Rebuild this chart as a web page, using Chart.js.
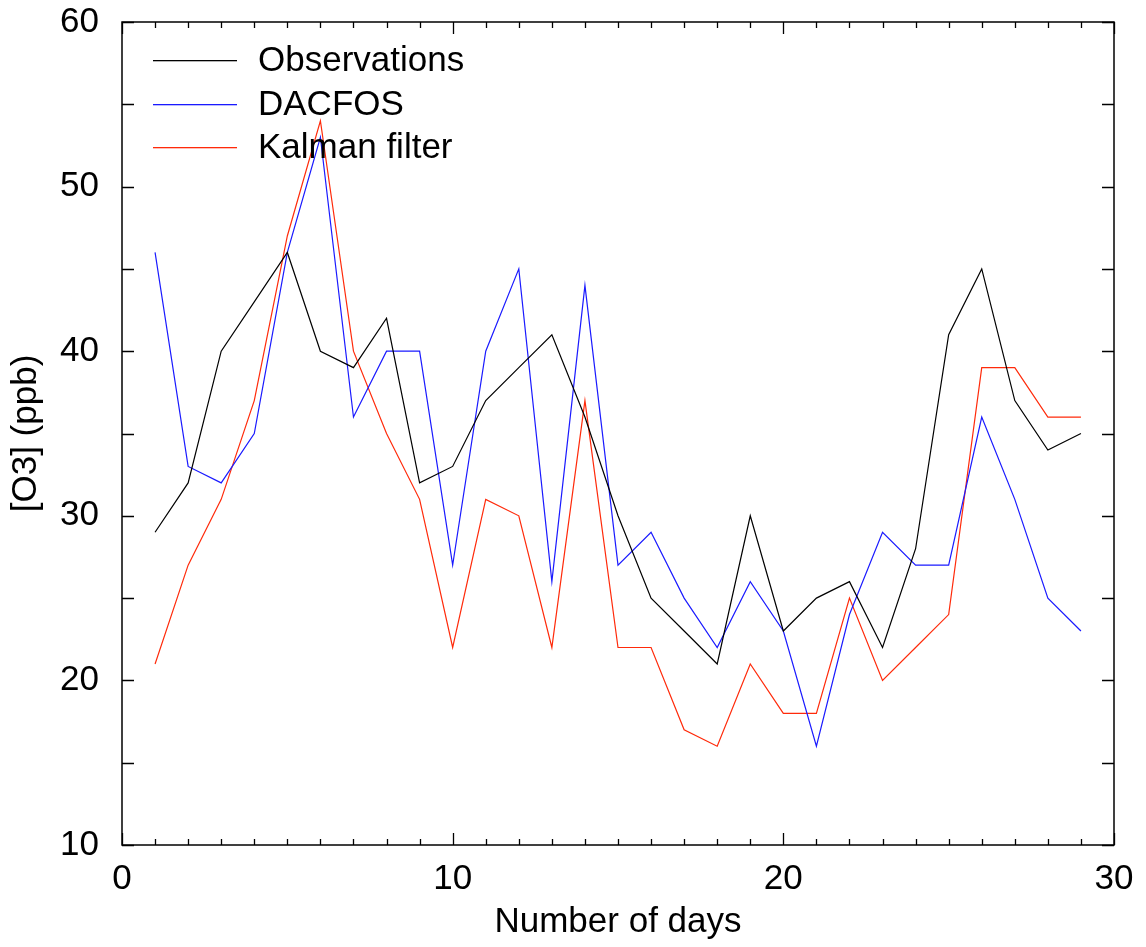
<!DOCTYPE html>
<html>
<head>
<meta charset="utf-8">
<script src="https://cdn.jsdelivr.net/npm/chart.js@4.4.1/dist/chart.umd.min.js"></script>
<style>
  body { margin: 0; background: #fff; }
  #wrap { width: 1146px; height: 947px; }
</style>
</head>
<body>
<div id="wrap"><canvas id="ozoneChart" width="1146" height="947"></canvas></div>
<script>
const days = [1, 2, 3, 4, 5, 6, 7, 8, 9, 10, 11, 12, 13, 14, 15, 16, 17, 18, 19, 20, 21, 22, 23, 24, 25, 26, 27, 28, 29];
const observations = [29, 32, 40, 43, 46, 40, 39, 42, 32, 33, 37, 39, 41, 36, 30, 25, 23, 21, 30, 23, 25, 26, 22, 28, 41, 45, 37, 34, 35];
const dacfos = [46, 33, 32, 35, 46, 53, 36, 40, 40, 27, 40, 45, 26, 44, 27, 29, 25, 22, 26, 23, 16, 24, 29, 27, 27, 36, 31, 25, 23];
const kalman = [21, 27, 31, 37, 47, 54, 40, 35, 31, 22, 31, 30, 22, 37, 22, 22, 17, 16, 21, 18, 18, 25, 20, 22, 24, 39, 39, 36, 36];
const xTickLabels = [0, 10, 20, 30];
const yTickLabels = [10, 20, 30, 40, 50, 60];
const xMinorStep = 1;
const yMinorStep = 5;

const fuente = '"Liberation Sans", Arial, Helvetica, sans-serif';
const tamano = 35;
const colores = ['#000000', '#1a1aff', '#ff2a0a'];
Chart.defaults.font.family = fuente;
Chart.defaults.color = '#000';

function serie(valores) {
    return days.map((d, i) => ({ x: d, y: valores[i] }));
}

// marcas hacia adentro en los cuatro lados, como gnuplot
const marcoPlugin = {
    id: 'marco',
    afterDatasetsDraw(chart) {
        const { ctx, chartArea: a, scales: { x, y } } = chart;
        ctx.save();
        ctx.strokeStyle = '#000';
        ctx.lineWidth = 1.3;
        ctx.beginPath();
        for (let v = x.min; v <= x.max; v += xMinorStep) {
            const px = Math.round(x.getPixelForValue(v)) + 0.5;
            const largo = xTickLabels.includes(v) ? 12 : 6;
            ctx.moveTo(px, a.bottom); ctx.lineTo(px, a.bottom - largo);
            ctx.moveTo(px, a.top); ctx.lineTo(px, a.top + largo);
        }
        for (let v = y.min; v <= y.max; v += yMinorStep) {
            const py = Math.round(y.getPixelForValue(v)) + 0.5;
            ctx.moveTo(a.left, py); ctx.lineTo(a.left + 12, py);
            ctx.moveTo(a.right, py); ctx.lineTo(a.right - 12, py);
        }
        ctx.stroke();
        ctx.lineWidth = 1.5;
        ctx.strokeRect(a.left, a.top, a.right - a.left, a.bottom - a.top);
        ctx.restore();
    }
};

const leyendaPlugin = {
    id: 'leyenda',
    afterDraw(chart) {
        const { ctx, chartArea: a } = chart;
        chart.data.datasets.forEach((ds, i) => {
            const py = Math.round(a.top + 38 + i * 43.5);
            ctx.save();
            ctx.fillStyle = colores[i];
            ctx.fillRect(a.left + 31, py, 84, 1.3);
            ctx.font = tamano + 'px ' + fuente;
            ctx.textBaseline = 'middle';
            ctx.fillStyle = '#000';
            ctx.fillText(ds.label, a.left + 136, py + 1);
            ctx.restore();
        });
    }
};

const ctx = document.getElementById('ozoneChart').getContext('2d');
new Chart(ctx, {
    type: 'line',
    data: {
        datasets: [
            { label: 'Observations', data: serie(observations), borderColor: colores[0] },
            { label: 'DACFOS', data: serie(dacfos), borderColor: colores[1] },
            { label: 'Kalman filter', data: serie(kalman), borderColor: colores[2] }
        ]
    },
    options: {
        responsive: false,
        animation: false,
        devicePixelRatio: 1,
        layout: { padding: { left: 0, right: 32, top: 22, bottom: 0 } },
        elements: {
            line: { borderWidth: 1.2, tension: 0, fill: false },
            point: { radius: 0 }
        },
        plugins: {
            legend: { display: false },
            tooltip: { enabled: false }
        },
        scales: {
            x: {
                type: 'linear',
                min: 0,
                max: 30,
                grid: { display: false, drawTicks: false },
                border: { display: false },
                afterBuildTicks: s => { s.ticks = xTickLabels.map(v => ({ value: v })); },
                afterFit: s => { s.height = 102; s.paddingLeft = 0; s.paddingRight = 0; },
                ticks: { font: { size: tamano }, padding: 13, maxRotation: 0 },
                title: { display: true, text: 'Number of days', font: { size: tamano }, padding: { top: 0, bottom: 4 } }
            },
            y: {
                type: 'linear',
                min: 10,
                max: 60,
                grid: { display: false, drawTicks: false },
                border: { display: false },
                afterBuildTicks: s => { s.ticks = yTickLabels.map(v => ({ value: v })); },
                afterFit: s => { s.width = 122; s.paddingTop = 0; s.paddingBottom = 0; },
                ticks: { font: { size: tamano }, padding: 23 },
                title: { display: true, text: '[O3] (ppb)', font: { size: tamano }, padding: { top: 5, bottom: 0 } }
            }
        }
    },
    plugins: [marcoPlugin, leyendaPlugin]
});
</script>
</body>
</html>
